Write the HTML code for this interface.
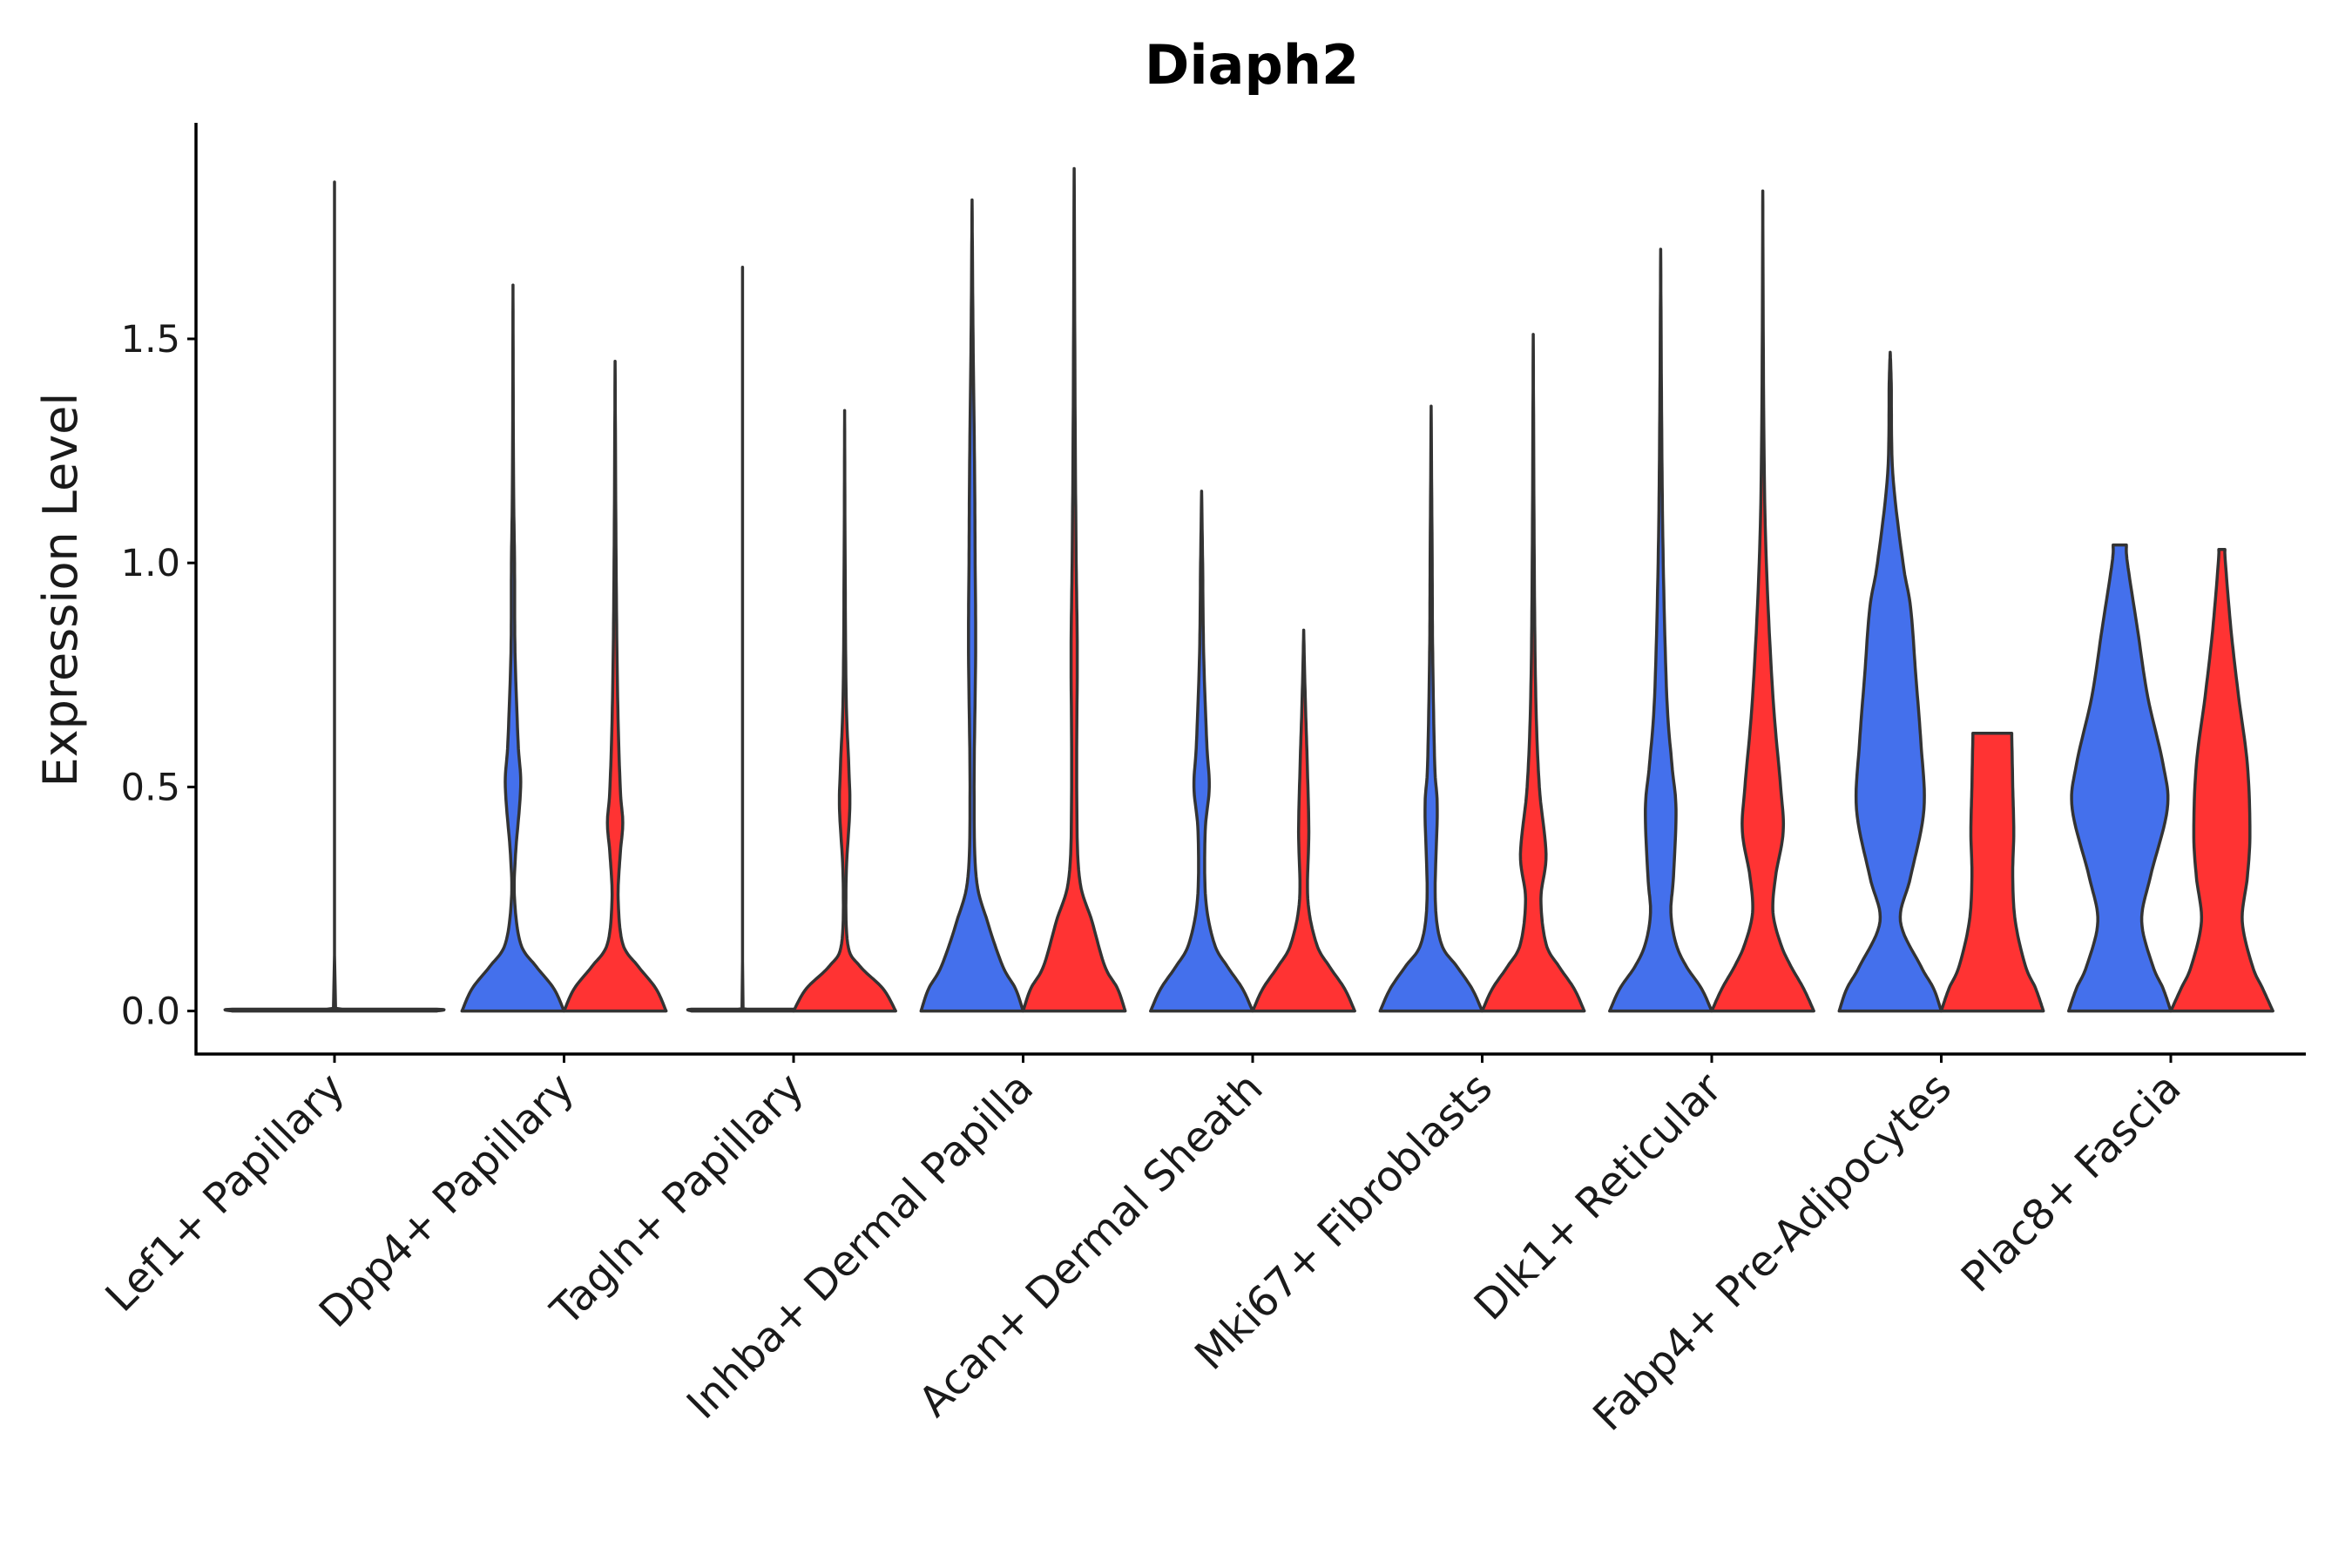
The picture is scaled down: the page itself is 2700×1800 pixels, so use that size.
<!DOCTYPE html>
<html><head><meta charset="utf-8"><style>
html,body{margin:0;padding:0;background:#fff;}
svg{display:block;font-family:"DejaVu Sans","Liberation Sans",sans-serif;}
</style></head><body>
<svg id="chart" width="2700" height="1800" viewBox="0 0 2700 1800">
<text x="1437" y="96" text-anchor="middle" font-size="62" font-weight="bold">Diaph2</text>
<text transform="translate(88,677) rotate(-90)" text-anchor="middle" font-size="54" fill="#1a1a1a">Expression Level</text>
<g id="plot"></g>
</svg>
<script>
const categories=["Lef1+ Papillary","Dpp4+ Papillary","Tagln+ Papillary","Inhba+ Dermal Papilla","Acan+ Dermal Sheath","Mki67+ Fibroblasts","Dlk1+ Reticular","Fabp4+ Pre-Adipocytes","Plac8+ Fascia"];
const yTicks=[0,0.5,1.0,1.5];
const yTickLabels=["0.0","0.5","1.0","1.5"];
// each category: blue profile, red profile ([value, relative width] knots); null = absent
const blueProfiles=[
 null,
 [[0,1],[0.05,0.8],[0.1,0.45],[0.15,0.15],[0.25,0.03],[0.35,0.05],[0.5,0.15],[0.6,0.1],[0.8,0.04],[1.0,0.03],[1.2,0.01],[1.62,0]],
 [[0,1],[0.004,1],[0.006,0.01],[1.66,0]],
 [[0,1],[0.05,0.85],[0.1,0.6],[0.2,0.3],[0.3,0.08],[0.5,0.04],[0.8,0.07],[1.0,0.06],[1.2,0.05],[1.5,0.02],[1.81,0]],
 [[0,1],[0.05,0.8],[0.1,0.5],[0.15,0.25],[0.25,0.08],[0.4,0.07],[0.5,0.15],[0.6,0.1],[0.8,0.04],[1.0,0.02],[1.16,0]],
 [[0,1],[0.05,0.8],[0.1,0.5],[0.15,0.2],[0.25,0.08],[0.45,0.12],[0.55,0.07],[0.8,0.03],[1.0,0.02],[1.35,0]],
 [[0,1],[0.05,0.8],[0.1,0.5],[0.15,0.3],[0.22,0.2],[0.3,0.25],[0.45,0.3],[0.55,0.22],[0.7,0.12],[1.0,0.05],[1.3,0.02],[1.70,0]],
 [[0,1],[0.05,0.85],[0.1,0.6],[0.2,0.2],[0.3,0.4],[0.45,0.66],[0.6,0.6],[0.75,0.5],[0.9,0.4],[1.0,0.25],[1.2,0.05],[1.4,0.02],[1.47,0]],
 [[0,1],[0.05,0.85],[0.1,0.65],[0.2,0.43],[0.3,0.6],[0.45,0.93],[0.55,0.85],[0.7,0.55],[0.85,0.35],[1.0,0.15],[1.04,0.13]]
];
const redProfiles=[
 [[0,1],[0.004,1],[0.006,0.01],[1.85,0]],
 [[0,1],[0.05,0.8],[0.1,0.45],[0.15,0.15],[0.25,0.06],[0.35,0.1],[0.42,0.15],[0.5,0.1],[0.7,0.05],[1.0,0.02],[1.45,0]],
 [[0,1],[0.05,0.75],[0.1,0.3],[0.15,0.06],[0.3,0.03],[0.45,0.1],[0.55,0.08],[0.7,0.03],[1.0,0.01],[1.34,0]],
 [[0,1],[0.05,0.85],[0.1,0.6],[0.2,0.35],[0.3,0.1],[0.5,0.05],[0.8,0.06],[1.0,0.04],[1.3,0.02],[1.88,0]],
 [[0,1],[0.05,0.8],[0.1,0.5],[0.15,0.25],[0.25,0.08],[0.4,0.1],[0.55,0.07],[0.7,0.03],[0.85,0]],
 [[0,1],[0.05,0.8],[0.1,0.5],[0.15,0.25],[0.25,0.15],[0.35,0.25],[0.5,0.12],[0.7,0.05],[1.0,0.02],[1.51,0]],
 [[0,1],[0.05,0.8],[0.1,0.55],[0.15,0.35],[0.22,0.2],[0.3,0.25],[0.4,0.4],[0.5,0.35],[0.7,0.2],[1.0,0.07],[1.3,0.02],[1.83,0]],
 [[0,1],[0.05,0.85],[0.1,0.65],[0.2,0.45],[0.3,0.4],[0.4,0.42],[0.5,0.4],[0.62,0.38]],
 [[0,1],[0.05,0.8],[0.1,0.6],[0.2,0.4],[0.3,0.5],[0.4,0.55],[0.55,0.5],[0.7,0.33],[0.85,0.18],[1.0,0.07],[1.03,0.06]]
];
const NS="http://www.w3.org/2000/svg";
const g=document.getElementById('plot');
const X0=225,X1=2647,Y_AX=1210,Y_TOP=141;
const y0px=1160.6,yUnit=514.4;
function yScale(v){return y0px-v*yUnit;}
function xScale(i){return 384+i*263.5;}
const HALF=58.6;
function el(t,a){const e=document.createElementNS(NS,t);for(const k in a)e.setAttribute(k,a[k]);g.appendChild(e);return e;}
function sample(prof){
  const pts=[];
  for(let i=0;i<prof.length-1;i++){
    const p0=prof[Math.max(0,i-1)],p1=prof[i],p2=prof[i+1],p3=prof[Math.min(prof.length-1,i+2)];
    for(let s=0;s<10;s++){const t=s/10,t2=t*t,t3=t2*t;
      const f=(a,b,c,d)=>0.5*((2*b)+(-a+c)*t+(2*a-5*b+4*c-d)*t2+(-a+3*b-3*c+d)*t3);
      let y=f(p0[0],p1[0],p2[0],p3[0]);y=Math.min(Math.max(y,p1[0]),p2[0]);
      pts.push([y,Math.max(0,f(p0[1],p1[1],p2[1],p3[1]))]);}
  }
  pts.push(prof[prof.length-1]);return pts;
}
function violin(prof,cx,hw,color,name){
  const pts=sample(prof);
  let d="";
  pts.forEach((p,i)=>{d+=(i?"L":"M")+(cx-p[1]*hw).toFixed(1)+","+yScale(p[0]).toFixed(1);});
  for(let i=pts.length-1;i>=0;i--){const p=pts[i];d+="L"+(cx+p[1]*hw).toFixed(1)+","+yScale(p[0]).toFixed(1);}
  d+="Z";
  const e=el('path',{d:d,fill:color,stroke:'#333','stroke-width':3.5,'stroke-linejoin':'round'});
  
  
}
categories.forEach((c,i)=>{
  const cx=xScale(i);
  const slug=c.toLowerCase().replace(/[^a-z0-9]+/g,'-').replace(/-$/,'');
  if(blueProfiles[i]===null){violin(redProfiles[i],cx,HALF*2,'#ffffff','violin-'+slug);}
  else{
    violin(blueProfiles[i],cx-HALF,HALF,'#4470EC','violin-blue-'+slug);
    violin(redProfiles[i],cx+HALF,HALF,'#FF3333','violin-red-'+slug);
  }
  const t=el('line',{x1:cx,x2:cx,y1:Y_AX,y2:Y_AX+10,stroke:'#000','stroke-width':3});
  
  
  const lb=el('text',{transform:`translate(${cx+14},${Y_AX+42}) rotate(-45)`,'text-anchor':'end','font-size':48,fill:'#1a1a1a'});
  lb.textContent=c;
  
  
});
yTicks.forEach((v,i)=>{
  const y=yScale(v);
  const t=el('line',{x1:X0-10,x2:X0,y1:y,y2:y,stroke:'#000','stroke-width':3});
  
  
  const lb=el('text',{x:X0-18,y:y+15,'text-anchor':'end','font-size':43,fill:'#1a1a1a'});
  lb.textContent=yTickLabels[i];
  
  
});
const ya=el('line',{x1:X0,x2:X0,y1:Y_TOP,y2:Y_AX+1.5,stroke:'#000','stroke-width':3.5});


const xa=el('line',{x1:X0-1.5,x2:X1,y1:Y_AX,y2:Y_AX,stroke:'#000','stroke-width':3.5});


</script>
</body></html>
